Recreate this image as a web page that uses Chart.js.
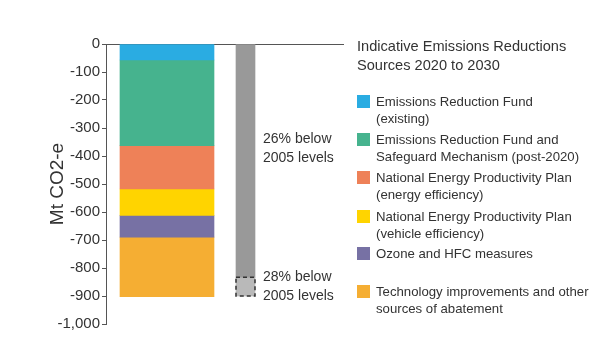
<!DOCTYPE html>
<html lang="en">
<head>
    <meta charset="UTF-8">
    <title>Indicative Emissions Reductions</title>
    <style>
        html, body { margin: 0; padding: 0; background: #fff; }
        #wrap { position: relative; width: 602px; height: 348px; font-family: "Liberation Sans", Arial, sans-serif; color: #333; }
        #chart { position: absolute; left: 0; top: 0; }
        #legend { position: absolute; left: 357px; top: 0; width: 245px; }
        .lg-title { position: absolute; left: 0; top: 37px; font-size: 14.6px; line-height: 19px; white-space: nowrap; }
        .lg-item { position: absolute; left: 0; font-size: 13.2px; line-height: 17px; white-space: nowrap; }
        .lg-box { position: absolute; left: 0; top: 2px; width: 13px; height: 13px; }
        .lg-text { position: absolute; left: 19px; top: 0; }
    </style>
</head>
<body>
<div id="wrap">
    <canvas id="chart" width="602" height="348"></canvas>
    <div id="legend"></div>
</div>
<script src="https://cdn.jsdelivr.net/npm/chart.js"></script>
<script>
    // categories: the sources bar and the target bar
    const categories = ['Sources 2020 to 2030', '2030 target'];

    // reductions by source, Mt CO2-e (stacked, top to bottom)
    const sourceLabels = [
        ['Emissions Reduction Fund', '(existing)'],
        ['Emissions Reduction Fund and', 'Safeguard Mechanism (post-2020)'],
        ['National Energy Productivity Plan', '(energy efficiency)'],
        ['National Energy Productivity Plan', '(vehicle efficiency)'],
        ['Ozone and HFC measures'],
        ['Technology improvements and other', 'sources of abatement']
    ];
    const sourceValues = [-57, -306, -155, -94, -78, -212];
    const sourceColors = ['#2aace2', '#46b38e', '#ee8158', '#ffd400', '#7771a4', '#f5ae33'];

    // target bar: 26% below 2005, then extra to reach 28% below 2005
    const targetValues = [-833, -67];
    const targetNotes = [['26% below', '2005 levels'], ['28% below', '2005 levels']];

    const legendTitle = ['Indicative Emissions Reductions', 'Sources 2020 to 2030'];
    const legendTops = [93, 131, 169, 208, 245, 283];

    const yMin = -1000, yMax = 0, yStep = 100;

    // legend
    const legend = document.getElementById('legend');
    legend.innerHTML = '<div class="lg-title">' + legendTitle.join('<br>') + '</div>';
    sourceLabels.forEach((lines, i) => {
        const item = document.createElement('div');
        item.className = 'lg-item';
        item.style.top = legendTops[i] + 'px';
        item.innerHTML = '<div class="lg-box" style="background:' + sourceColors[i] + '"></div>' +
            '<div class="lg-text">' + lines.join('<br>') + '</div>';
        legend.appendChild(item);
    });

    const datasets = [];
    sourceValues.forEach((v, i) => {
        datasets.push({
            label: sourceLabels[i].join(' '),
            data: [{ x: 0, y: v }],
            backgroundColor: sourceColors[i],
            barThickness: 94,
            borderWidth: 0
        });
    });
    datasets.push({
        label: targetNotes[0].join(' '),
        data: [{ x: 1, y: targetValues[0] }],
        backgroundColor: '#999999',
        barThickness: 19,
        borderWidth: 0
    });
    datasets.push({
        label: targetNotes[1].join(' '),
        data: [{ x: 1, y: targetValues[1] }],
        backgroundColor: '#b9b9b9',
        barThickness: 19,
        borderWidth: 0
    });

    // dashed outline + notes next to the target bar
    const targetPlugin = {
        id: 'targetNotes',
        afterDatasetsDraw(chart) {
            const ctx = chart.ctx;
            const n = sourceValues.length;
            ctx.save();
            const box = chart.getDatasetMeta(n + 1).data[0];
            const top = Math.min(box.y, box.base), bot = Math.max(box.y, box.base);
            ctx.setLineDash([4, 3]);
            ctx.lineWidth = 1.5;
            ctx.strokeStyle = '#333';
            ctx.strokeRect(box.x - box.width / 2, top, box.width, bot - top);
            ctx.setLineDash([]);

            ctx.font = '14px "Liberation Sans", Arial, sans-serif';
            ctx.fillStyle = '#333';
            ctx.textBaseline = 'middle';
            const ys = chart.scales.y;
            const bar = chart.getDatasetMeta(n).data[0];
            const tx = bar.x + bar.width / 2 + 8;
            const c1 = ys.getPixelForValue(-375);
            const c2 = (top + bot) / 2;
            [c1, c2].forEach((c, i) => {
                ctx.fillText(targetNotes[i][0], tx, c - 9.5);
                ctx.fillText(targetNotes[i][1], tx, c + 9.5);
            });
            ctx.restore();
        }
    };

    new Chart(document.getElementById('chart'), {
        type: 'bar',
        data: { labels: categories, datasets: datasets },
        options: {
            responsive: false,
            animation: false,
            layout: { padding: { left: 0, right: 259, top: 44, bottom: 24 } },
            plugins: {
                legend: { display: false },
                tooltip: { enabled: false }
            },
            scales: {
                x: {
                    type: 'linear',
                    position: 'top',
                    stacked: true,
                    offset: false,
                    min: -0.777,
                    max: 2.242,
                    grid: { display: false },
                    ticks: { display: false },
                    border: { display: true, color: '#555', width: 1 },
                    afterFit(scale) { scale.height = 0; }
                },
                y: {
                    stacked: true,
                    min: yMin,
                    max: yMax,
                    ticks: {
                        stepSize: yStep,
                        color: '#333',
                        padding: 2,
                        font: { family: '"Liberation Sans", Arial, sans-serif', size: 15 },
                        callback: v => v.toLocaleString('en-US')
                    },
                    grid: { display: true, drawOnChartArea: false, drawTicks: true, tickLength: 4, color: '#555' },
                    border: { display: true, color: '#555', width: 1 },
                    title: {
                        display: true,
                        text: 'Mt CO2-e',
                        color: '#333',
                        padding: { top: 46, bottom: 0 },
                        font: { family: '"Liberation Sans", Arial, sans-serif', size: 19 }
                    },
                    afterFit(scale) { scale.width = 106; }
                }
            }
        },
        plugins: [targetPlugin]
    });
</script>
</body>
</html>
